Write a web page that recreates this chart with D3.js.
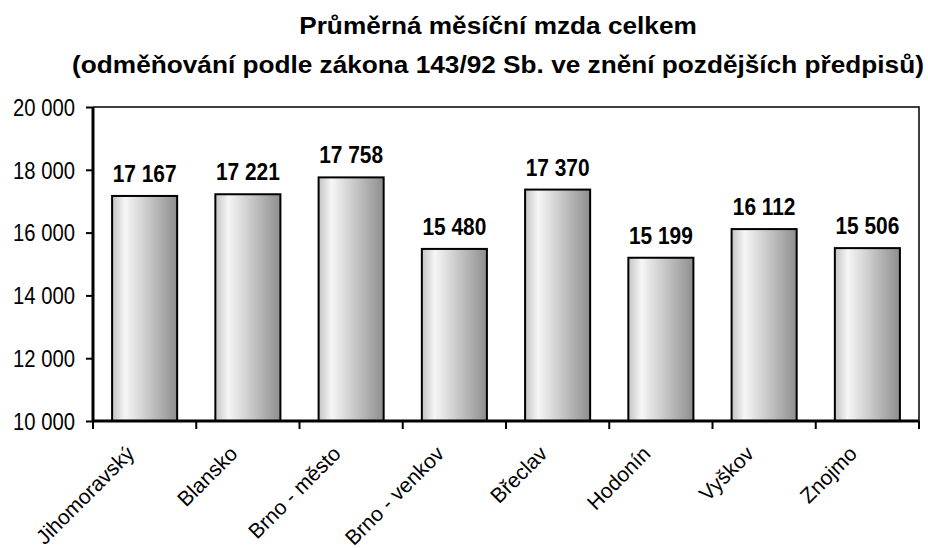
<!DOCTYPE html>
<html><head><meta charset="utf-8">
<script src="https://cdn.jsdelivr.net/npm/d3@7"></script>
<style>body{margin:0;background:#fff}svg{display:block}</style>
</head><body><svg id="c" width="928" height="548"></svg>
<script>
const categories = ["Jihomoravský","Blansko","Brno - město","Brno - venkov","Břeclav","Hodonín","Vyškov","Znojmo"];
const values = [17167,17221,17758,15480,17370,15199,16112,15506];
const yTicks = [10000,12000,14000,16000,18000,20000];
const titleLines = ["Průměrná měsíční mzda celkem","(odměňování podle zákona 143/92 Sb. ve znění pozdějších předpisů)"];

const svg = d3.select("#c");
const font = "'Liberation Sans',Arial,sans-serif";
const m = {l:93, r:919, t:107, b:421};
const x = d3.scaleBand().domain(categories).range([m.l, m.r]).paddingInner(0.37).paddingOuter(0.185);
const xb = d3.scaleBand().domain(categories).range([m.l, m.r]);
const y = d3.scaleLinear().domain([10000,20000]).range([m.b, m.t]);
const fmt = v => d3.format(",")(v).replace(/,/g," ");

const defs = svg.append("defs");
const g = defs.append("linearGradient").attr("id","gr").attr("x1","0").attr("x2","1").attr("y1","0").attr("y2","0");
g.append("stop").attr("offset","0").attr("stop-color","#c4c4c4");
g.append("stop").attr("offset","0.2").attr("stop-color","#f6f6f6");
g.append("stop").attr("offset","1").attr("stop-color","#8e8e8e");

svg.selectAll("text.title").data(titleLines).join("text").attr("class","title")
  .attr("transform",(d,i)=>`translate(498,${34+i*39}) scale(1.07,1)`).attr("text-anchor","middle")
  .attr("font-family",font).attr("font-weight","bold").attr("font-size",24.5).text(d=>d);

// frame top/right
svg.append("path").attr("d",`M${m.l},${m.t}H${m.r}V${m.b}`).attr("fill","none").attr("stroke","#000").attr("stroke-width",1.5);

svg.selectAll("rect.bar").data(values).join("rect").attr("class","bar")
  .attr("x",(d,i)=>x(categories[i])).attr("width",x.bandwidth())
  .attr("y",d=>y(d)).attr("height",d=>y(10000)-y(d))
  .attr("fill","url(#gr)").attr("stroke","#000").attr("stroke-width",2);

svg.selectAll("text.val").data(values).join("text").attr("class","val")
  .attr("transform",(d,i)=>`translate(${x(categories[i])+x.bandwidth()/2},${y(d)-14}) scale(0.87,1)`)
  .attr("text-anchor","middle").attr("font-family",font).attr("font-weight","bold").attr("font-size",24)
  .text(fmt);

// y axis
const ya = svg.append("g").attr("transform",`translate(${m.l},0)`)
  .call(d3.axisLeft(y).tickValues(yTicks).tickSize(7).tickPadding(0).tickFormat(fmt));
ya.select(".domain").attr("stroke-width",3).attr("d",`M0,${m.t}V${m.b}`);
ya.selectAll(".tick line").attr("stroke-width",2);
ya.selectAll("text").attr("x",null).attr("dy","0.36em").attr("transform","translate(-18,0) scale(0.88,1)")
  .attr("font-family",font).attr("font-size",23).attr("fill","#000");

// x axis
const xa = svg.append("g").attr("transform",`translate(0,${m.b})`)
  .call(d3.axisBottom(xb).tickSize(0).tickFormat(""));
xa.select(".domain").attr("stroke-width",3).attr("d",`M${m.l},0H${m.r}`);
xa.selectAll(".tick").remove();
const edges = d3.range(categories.length+1).map(i=>m.l+i*xb.step());
xa.selectAll("line.t").data(edges).join("line").attr("class","t")
  .attr("x1",d=>d).attr("x2",d=>d).attr("y1",0).attr("y2",8).attr("stroke","#000").attr("stroke-width",2);
svg.selectAll("text.cat").data(categories).join("text").attr("class","cat")
  .attr("transform",d=>`translate(${xb(d)+xb.bandwidth()/2-9},${m.b+34}) rotate(-45)`)
  .attr("text-anchor","end").attr("font-family",font).attr("font-size",21).text(d=>d);
</script></body></html>
